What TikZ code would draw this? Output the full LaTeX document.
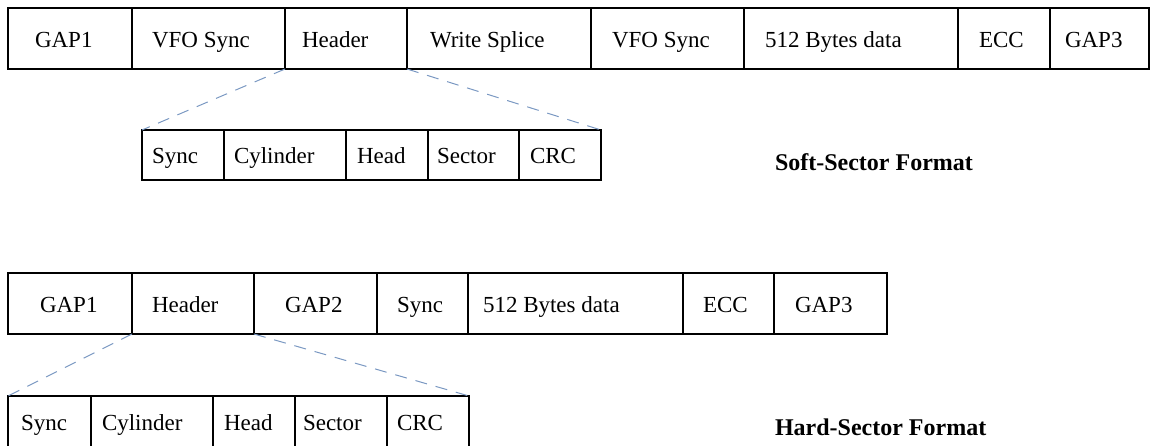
\documentclass[tikz,border=0pt]{standalone}
\usepackage{fontspec}
\setmainfont{Liberation Serif}
\usetikzlibrary{fit}
\definecolor{zoomblue}{RGB}{122,152,194}
\tikzset{
  cell/.style={draw=black, line width=1pt, inner sep=0pt, outer sep=0pt},
  lbl/.style={anchor=base west, inner sep=0pt, outer sep=0pt, font=\fontsize{11.5}{13}\selectfont},
  title/.style={anchor=base west, inner sep=0pt, outer sep=0pt, font=\fontsize{12}{14}\selectfont\bfseries},
  zoomline/.style={draw=zoomblue, line width=0.5pt, dash pattern=on 6pt off 4.5pt}
}
\begin{document}
\begin{tikzpicture}[x=0.5pt, y=-0.5pt]
\useasboundingbox (0,0) rectangle (1152,445);
% soft-sector main row
\foreach \n/\a/\b/\tx/\txt in {t1/8/132/35/GAP1, t2/132/285/152/VFO Sync, t3/285/407/302/Header, t4/407/591/430/Write Splice, t5/591/744/612/VFO Sync, t6/744/958/765/512 Bytes data, t7/958/1050/979/ECC, t8/1050/1149/1065/GAP3}{
  \node[cell, fit={(\a,8) (\b,69)}] (\n) {};
  \node[lbl] (\n l) at (\tx,47) {\txt};
}
% soft-sector header detail
\foreach \n/\a/\b/\tx/\txt in {s1/142/224/152/Sync, s2/224/346/234/Cylinder, s3/346/428/357/Head, s4/428/519/437/Sector, s5/519/601/530/CRC}{
  \node[cell, fit={(\a,130) (\b,180)}] (\n) {};
  \node[lbl] (\n l) at (\tx,163.5) {\txt};
}
\draw[zoomline] (t3.south west) -- (s1.north west);
\draw[zoomline] (t3.south east) -- (s5.north east);
\node[title] (soft) at (775,170) {Soft-Sector Format};
% hard-sector main row
\foreach \n/\a/\b/\tx/\txt in {b1/8/132/40/GAP1, b2/132/254/152/Header, b3/254/377/285/GAP2, b4/377/468/397/Sync, b5/468/683/483/512 Bytes data, b6/683/774/703/ECC, b7/774/887/795/GAP3}{
  \node[cell, fit={(\a,273) (\b,334)}] (\n) {};
  \node[lbl] (\n l) at (\tx,312) {\txt};
}
% hard-sector header detail
\foreach \n/\a/\b/\tx/\txt in {h1/8/91/21/Sync, h2/91/213/102/Cylinder, h3/213/295/224/Head, h4/295/387/303/Sector, h5/387/469/397/CRC}{
  \node[cell, fit={(\a,396) (\b,448)}] (\n) {};
  \node[lbl] (\n l) at (\tx,430) {\txt};
}
\draw[zoomline] (b2.south west) -- (h1.north west);
\draw[zoomline] (b2.south east) -- (h5.north east);
\node[title] (hard) at (775,435) {Hard-Sector Format};
\end{tikzpicture}
\end{document}
